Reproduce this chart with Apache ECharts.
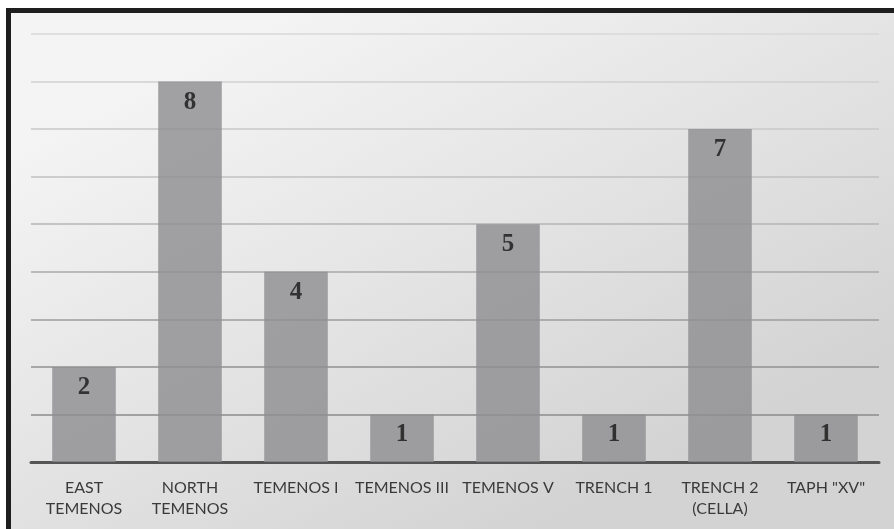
<!DOCTYPE html>
<html>
<head>
<meta charset="utf-8">
<script src="https://cdn.jsdelivr.net/npm/echarts@6/dist/echarts.min.js"></script>
<style>
  html, body { margin: 0; padding: 0; background: #fff; }
  #chart { width: 894px; height: 529px; }
</style>
</head>
<body>
<div id="chart"></div>
<script>
const categories = ['EAST\nTEMENOS', 'NORTH\nTEMENOS', 'TEMENOS I', 'TEMENOS III', 'TEMENOS V', 'TRENCH 1', 'TRENCH 2\n(CELLA)', 'TAPH "XV"']
const counts = [2, 8, 4, 1, 5, 1, 7, 1]
// grid line shades, from the 0 line upwards
const gridShades = ['#888888', '#8b8b8b', '#909090', '#9c9c9c', '#a8a8a8', '#b4b4b4', '#c0c0c0', '#c9c9c9', '#d1d1d1', '#d8d8d8']

const chartIns = echarts.init(document.getElementById('chart'))

const option = {
  backgroundColor: '#ffffff',
  animation: false,
  graphic: [
    {
      type: 'rect',
      z: -10,
      shape: { x: 11, y: 13, width: 883, height: 516 },
      style: {
        fill: new echarts.graphic.LinearGradient(0.3, 0, 0.6, 1, [
          { offset: 0, color: '#f4f4f4' },
          { offset: 0.5, color: '#e4e4e4' },
          { offset: 1, color: '#d3d3d3' }
        ])
      }
    },
    { type: 'rect', z: -5, shape: { x: 6, y: 8, width: 888, height: 5 }, style: { fill: '#1e1e1e' } },
    { type: 'rect', z: -5, shape: { x: 6, y: 8, width: 5, height: 521 }, style: { fill: '#1e1e1e' } }
  ],
  grid: { left: 31, right: 15, top: 34, bottom: 67 },
  xAxis: {
    type: 'category',
    data: categories,
    axisTick: { show: false },
    axisLine: { lineStyle: { color: '#555555', width: 3 } },
    axisLabel: {
      interval: 0,
      margin: 15,
      color: '#3a3a3a',
      fontFamily: 'Lato',
      fontSize: 16,
      lineHeight: 21
    }
  },
  yAxis: {
    type: 'value',
    min: 0,
    max: 9,
    interval: 1,
    axisLabel: { show: false },
    axisLine: { show: false },
    axisTick: { show: false },
    splitLine: { lineStyle: { color: gridShades, width: 1.5 } }
  },
  series: [
    {
      type: 'bar',
      data: counts,
      barWidth: '60%',
      itemStyle: { color: '#8f8f91', opacity: 0.82 },
      label: {
        show: true,
        position: 'insideTop',
        distance: 8,
        color: '#1a1a1a',
        fontFamily: 'Liberation Serif',
        fontWeight: 'bold',
        fontSize: 25
      }
    }
  ]
}

chartIns.setOption(option)
</script>
</body>
</html>
